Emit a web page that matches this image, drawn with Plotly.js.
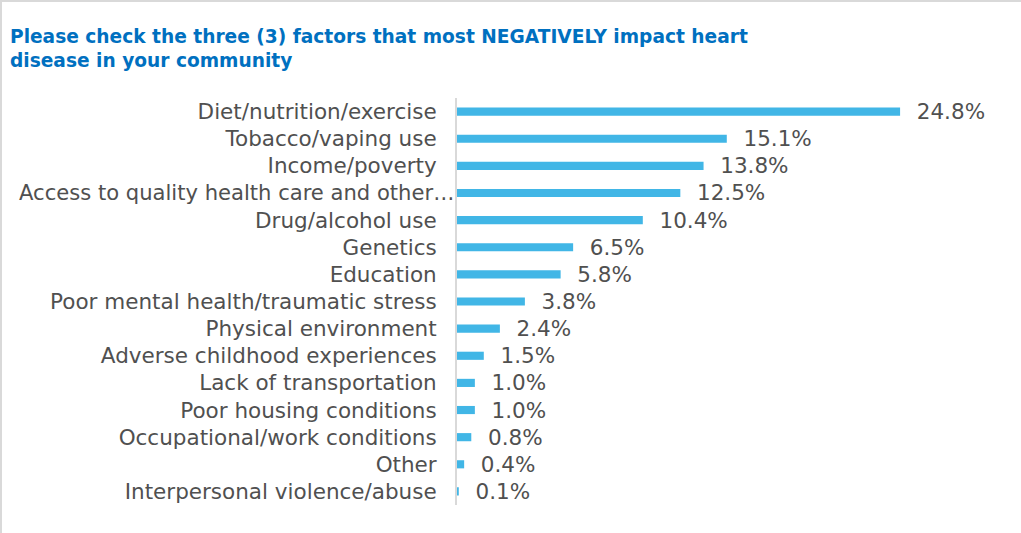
<!DOCTYPE html>
<html>
<head>
<meta charset="utf-8">
<script src="https://cdn.plot.ly/plotly-3.0.1.min.js"></script>
<style>
  html, body { margin: 0; padding: 0; background: #ffffff; }
  #wrap { position: relative; width: 1021px; height: 533px; overflow: hidden; }
  #chart { position: absolute; left: 0; top: 0; width: 1021px; height: 533px; }
  #frame { position: absolute; left: 0; top: 0; width: 1021px; height: 533px; box-sizing: border-box;
           border-top: 2px solid #d9d9d9; border-left: 2px solid #d9d9d9; pointer-events: none; }
</style>
</head>
<body>
<div id="wrap">
  <div id="chart"></div>
  <div id="frame"></div>
</div>
<script>
const categories = [
  "Diet/nutrition/exercise",
  "Tobacco/vaping use",
  "Income/poverty",
  "Access to quality health care and other\u2026",
  "Drug/alcohol use",
  "Genetics",
  "Education",
  "Poor mental health/traumatic stress",
  "Physical environment",
  "Adverse childhood experiences",
  "Lack of transportation",
  "Poor housing conditions",
  "Occupational/work conditions",
  "Other",
  "Interpersonal violence/abuse"
];
const values = [24.8, 15.1, 13.8, 12.5, 10.4, 6.5, 5.8, 3.8, 2.4, 1.5, 1.0, 1.0, 0.8, 0.4, 0.1];
const titleText = "Please check the three (3) factors that most NEGATIVELY impact heart<br>disease in your community";
// the long label is drawn as an annotation that runs up to the axis line (as in the original)
const longLabel = categories[3];

const font = "DejaVu Sans, Verdana, sans-serif";
const labelSize = 21.5;
const textColor = "#505050";

const trace = {
  type: "bar",
  orientation: "h",
  y: categories,
  x: values,
  marker: { color: "#41B6E6" },
  text: values.map(v => "\u00a0\u00a0" + v.toFixed(1) + "%"),
  textposition: "outside",
  constraintext: "none",
  cliponaxis: false,
  textfont: { family: font, size: labelSize, color: textColor },
  hoverinfo: "skip"
};

const layout = {
  width: 1021,
  height: 533,
  paper_bgcolor: "#ffffff",
  plot_bgcolor: "#ffffff",
  margin: { l: 457, r: 28, t: 98, b: 28 },
  bargap: 0.7,
  showlegend: false,
  title: {
    text: titleText,
    font: { family: font, size: 18.6, color: "#0070C0", weight: "bold" },
    xref: "container", yref: "container",
    x: 10 / 1021, xanchor: "left",
    y: 1 - 43 / 533, yanchor: "top"
  },
  xaxis: {
    range: [0, 30],
    showgrid: false, zeroline: false, showticklabels: false, showline: false, ticks: ""
  },
  yaxis: {
    autorange: "reversed",
    showgrid: false, zeroline: false,
    showline: true, linecolor: "#d9d9d9", linewidth: 2,
    ticks: "outside", ticklen: 14, tickcolor: "rgba(0,0,0,0)",
    tickmode: "array",
    tickvals: categories,
    ticktext: categories.map(c => c === longLabel ? "" : c),
    tickfont: { family: font, size: labelSize, color: textColor }
  },
  annotations: [{
    text: longLabel,
    xref: "paper", yref: "y",
    x: 0, y: longLabel,
    xanchor: "right", yanchor: "middle",
    xshift: -1,
    showarrow: false,
    font: { family: font, size: 21.1, color: textColor }
  }]
};

Plotly.newPlot("chart", [trace], layout, { displayModeBar: false, staticPlot: true });
</script>
</body>
</html>
